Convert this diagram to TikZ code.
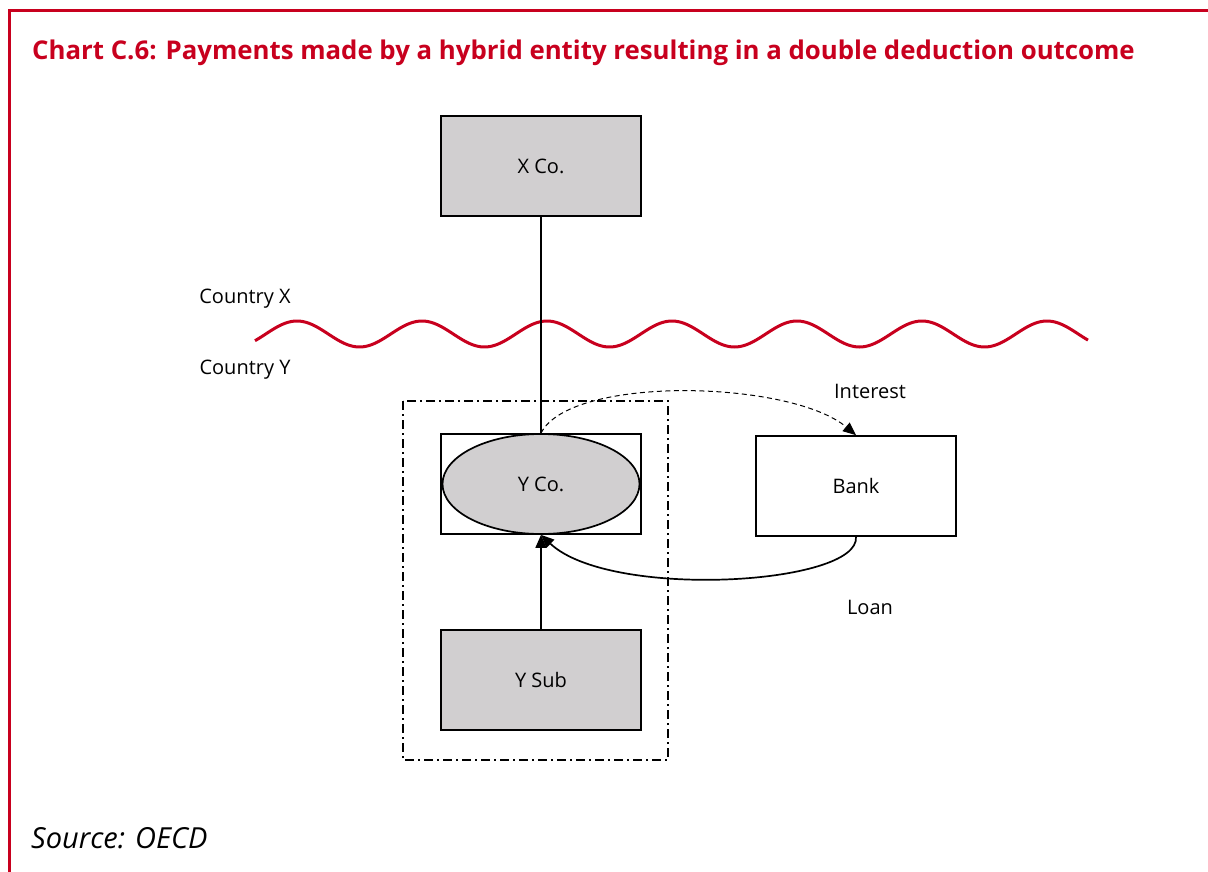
\documentclass[tikz,border=0pt]{standalone}
\usepackage{fontspec}
\setmainfont{Open Sans}
\usetikzlibrary{shapes.geometric,arrows.meta}
\definecolor{oecdred}{HTML}{C8001E}
\definecolor{boxgray}{HTML}{D1CFD0}
\tikzset{
  entity/.style={draw=black, line width=1.7pt, minimum width=200pt, minimum height=100pt, inner sep=0pt, font=\fontsize{20}{24}\selectfont},
  grayentity/.style={entity, fill=boxgray},
  lbl/.style={font=\fontsize{20}{24}\selectfont, inner sep=0pt},
  link/.style={line width=1.7pt},
  tip/.style={-{Triangle[length=13pt,width=11pt]}}
}
\begin{document}
\begin{tikzpicture}[x=1pt,y=-1pt]
\useasboundingbox (0,0) rectangle (1208,872);
% frame
\draw[oecdred, line width=3pt] (1208,11) -- (9,11) -- (9,872);
\node[anchor=west, inner sep=0pt, text=oecdred, font=\fontsize{25.8}{30}\bfseries\selectfont] (title) at (32,53) {Chart C.6: Payments made by a hybrid entity resulting in a double deduction outcome};

% border between the two countries (period 125, crests at 297 + 125k)
\draw[oecdred, line width=3pt] plot[domain=255:1088, samples=300, smooth] (\x, {334 - 13*cos((\x-297)*2.88)});
\node[lbl] (cx) at (245,299) {Country X};
\node[lbl] (cy) at (245,370) {Country Y};

% entities
\node[grayentity] (xco) at (541,166) {X Co.};
\node[entity] (yco) at (541,484) {};
\node[ellipse, draw=black, line width=1.7pt, fill=boxgray, minimum width=197pt, minimum height=100pt, inner sep=0pt, font=\fontsize{20}{24}\selectfont] (ycoell) at (541,484) {Y Co.};
\node[grayentity] (ysub) at (541,680) {Y Sub};
\node[entity] (bank) at (856,486) {Bank};

% consolidated group boundary
\draw[line width=1.8pt, dash pattern=on 9pt off 4pt on 2pt off 4pt] (403,401) rectangle (668,760);

% links
\draw[link] (xco.south) -- (yco.north);
\draw[link, tip] (ysub.north) -- (yco.south);
\draw[line width=1pt, dash pattern=on 5pt off 3.5pt, tip] (yco.north) .. controls (570,375) and (790,380) .. (bank.north);
\draw[link, tip] (bank.south) .. controls (860,585) and (610,600) .. (yco.south);

\node[lbl] (interest) at (870,391) {Interest};
\node[lbl] (loan) at (870,607) {Loan};

\node[anchor=west, inner sep=0pt, font=\fontsize{29}{33}\itshape\selectfont] (src) at (31,838) {Source: OECD};
\end{tikzpicture}
\end{document}
